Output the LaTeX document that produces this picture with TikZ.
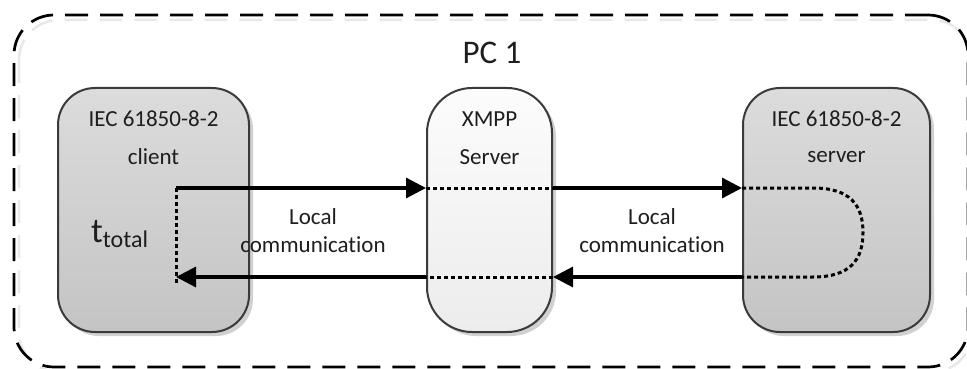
\documentclass[tikz,border=0pt]{standalone}
\usepackage{fontspec}
\setmainfont{Carlito}[Ligatures=NoCommon]
\usetikzlibrary{arrows.meta,shadows}
\definecolor{boxline}{HTML}{3A3A3A}
\definecolor{gtop}{HTML}{DCDCDC}
\definecolor{gbot}{HTML}{C4C4C4}
\definecolor{wtop}{HTML}{FCFCFC}
\definecolor{wbot}{HTML}{ECECEC}
\definecolor{txt}{HTML}{1E1E1E}
\tikzset{
  unitbox/.style={draw=boxline, line width=2pt, rounded corners=37pt,
    drop shadow={shadow xshift=4pt, shadow yshift=-4pt, opacity=0.18, fill=black}},
  graybox/.style={unitbox, top color=gtop, bottom color=gbot},
  whitebox/.style={unitbox, top color=wtop, bottom color=wbot, rounded corners=45pt},
  lbl/.style={font=\fontsize{23}{25}\selectfont, text=txt, inner sep=0pt},
  solidarrow/.style={line width=3.2pt, -{Triangle[length=20pt,width=20pt]}},
  dotline/.style={line width=3pt, dash pattern=on 4pt off 3pt},
}
\begin{document}
\begin{tikzpicture}[x=1pt,y=-1pt]
\useasboundingbox (0,0) rectangle (967,369);
% outer dashed frame with light shadow
\draw[gray!18, line width=2.5pt, dash pattern=on 23pt off 12pt, rounded corners=40pt]
  (19,20) rectangle (972,372);
\node[draw=black, line width=2.7pt, dash pattern=on 23pt off 12pt, rounded corners=40pt,
  minimum width=954pt, minimum height=352pt, inner sep=0pt] (pc) at (491,191) {};
\node[font=\fontsize{33}{35}\selectfont, text=txt, inner sep=0pt] (pctitle) at (492,53) {PC 1};
% boxes
\node[graybox, minimum width=191pt, minimum height=244pt, inner sep=0pt] (client) at (153.5,210) {};
\node[whitebox, minimum width=125pt, minimum height=244pt, inner sep=0pt] (xmpp) at (489.5,210) {};
\node[graybox, minimum width=187pt, minimum height=244pt, inner sep=0pt] (server) at (836.5,210) {};
% box texts
\node[lbl] (c1) at (153.5,119) {IEC 61850-8-2};
\node[lbl] (c2) at (153.5,157) {client};
\node[lbl] (x1) at (489.5,119) {XMPP};
\node[lbl] (x2) at (489.5,157) {Server};
\node[lbl] (s1) at (836.5,119) {IEC 61850-8-2};
\node[lbl] (s2) at (836.5,157) {server};
\node[text=txt, inner sep=0pt, anchor=base west] (tt) at (91,242)
  {\fontsize{35}{36}\selectfont t\raisebox{-0.3ex}{\fontsize{24}{25}\selectfont total}};
% link labels
\node[lbl] (l1a) at (313,217) {Local};
\node[lbl] (l1b) at (313,245) {communication};
\node[lbl] (l2a) at (652,217) {Local};
\node[lbl] (l2b) at (652,245) {communication};
% flow coordinates
\coordinate (ct) at (176,188);
\coordinate (cb) at (176,277);
\coordinate (st) at (813,188);
\coordinate (sb) at (813,277);
% forward path
\draw[solidarrow] (ct) -- (xmpp.west |- ct);
\draw[dotline] (xmpp.west |- ct) -- (xmpp.east |- ct);
\draw[solidarrow] (xmpp.east |- ct) -- (server.west |- ct);
\draw[dotline] (server.west |- ct) -- (st)
  .. controls (850,188) and (863,205) .. (863,232.5)
  .. controls (863,260) and (850,277) .. (sb) -- (server.west |- cb);
% return path
\draw[solidarrow] (server.west |- cb) -- (xmpp.east |- cb);
\draw[dotline] (xmpp.east |- cb) -- (xmpp.west |- cb);
\draw[solidarrow] (xmpp.west |- cb) -- (cb);
\draw[dotline] (ct) -- ([yshift=-8pt]cb);
\end{tikzpicture}
\end{document}
